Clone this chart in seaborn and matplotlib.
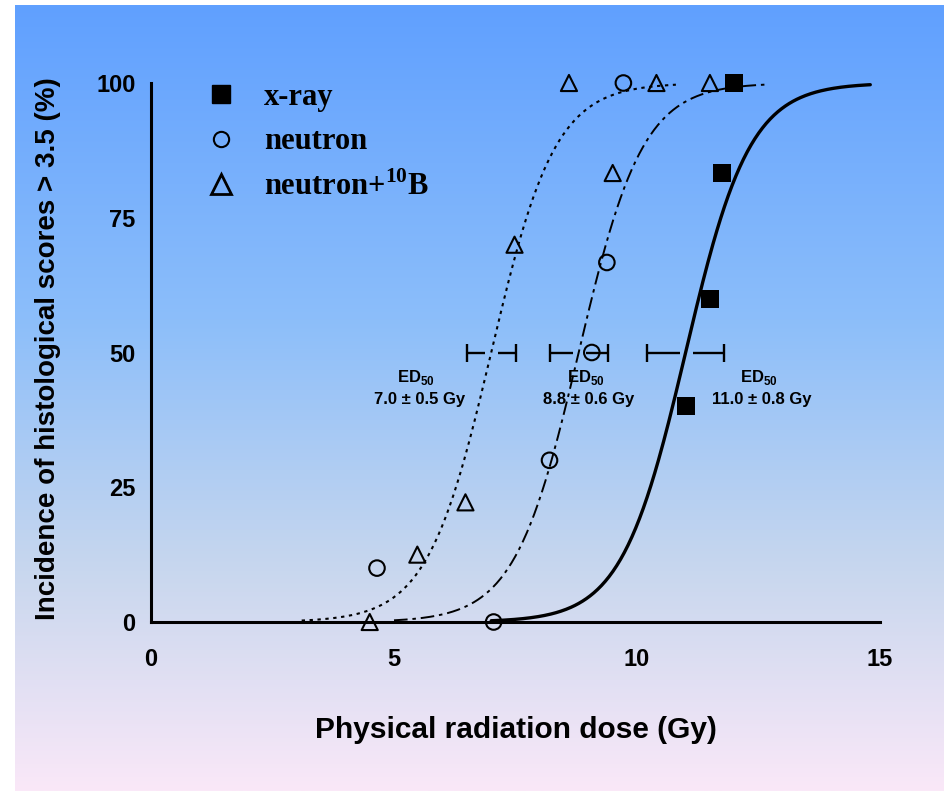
import numpy as np
import pandas as pd
import matplotlib
matplotlib.use("Agg")
import matplotlib.pyplot as plt
import seaborn as sns
from matplotlib.lines import Line2D

# ---- observed incidence (% of animals with histological score > 3.5) ----
xray_dose = [11.0, 11.5, 11.75, 12.0]
xray_pct = [40.0, 60.0, 83.3, 100.0]

neutron_dose = [4.65, 7.05, 8.2, 9.07, 9.38, 9.72]
neutron_pct = [10.0, 0.0, 30.0, 50.0, 66.7, 100.0]

boron_dose = [4.5, 5.48, 6.47, 7.48, 8.6, 9.5, 10.4, 11.5]
boron_pct = [0.0, 12.5, 22.2, 70.0, 100.0, 83.3, 100.0, 100.0]

# ---- fitted dose-response (logistic) ----
groups = ["x-ray", "neutron", "neutron+10B"]
ed50 = [11.0, 8.8, 7.0]
ed50_err = [0.8, 0.6, 0.5]
fit_width = 0.66                      # common logistic width parameter (Gy)
fit_span = [(7.0, 14.8), (5.0, 12.7), (3.1, 10.8)]

x_ticks = [0, 5, 10, 15]
y_ticks = [0, 25, 50, 75, 100]

sns.set_theme(style="white")
plt.rcParams["font.family"] = ["Liberation Sans", "DejaVu Sans"]
plt.rcParams["text.color"] = "black"
plt.rcParams["axes.labelcolor"] = "black"
plt.rcParams["mathtext.fontset"] = "custom"
plt.rcParams["mathtext.rm"] = "Liberation Serif:bold"
plt.rcParams["mathtext.sf"] = "Liberation Sans:bold"
plt.rcParams["mathtext.bf"] = "Liberation Serif:bold"

W, H = 944, 791
fig = plt.figure(figsize=(W / 100, H / 100), dpi=100, facecolor="white")

# slide-style vertical gradient background
bg = fig.add_axes([15 / W, 0, 1 - 15 / W, 1 - 5 / H], zorder=-10)
bg.axis("off")
stops = np.array([0.0, 0.40, 0.72, 1.0])
cols = np.array([[96, 160, 255], [140, 190, 250], [200, 215, 238], [250, 232, 248]]) / 255
t = np.linspace(0, 1, 400)
grad = np.stack([np.interp(t, stops, cols[:, i]) for i in range(3)], axis=-1)
bg.imshow(grad[:, None, :], aspect="auto", extent=[0, 1, 0, 1])

ax = fig.add_axes([151 / W, 1 - 622 / H, 729 / W, 539 / H])
ax.patch.set_alpha(0)

# fitted curves
styles = [
    dict(linestyle="-", linewidth=2.4),
    dict(linestyle=(0, (7, 2.5, 1.8, 2.5)), linewidth=1.4),
    dict(linestyle=(0, (1.6, 2.2)), linewidth=1.5),
]
for mid, span, st in zip(ed50, fit_span, styles):
    d = np.linspace(span[0], span[1], 300)
    resp = 100.0 / (1.0 + np.exp(-(d - mid) / fit_width))
    sns.lineplot(x=d, y=resp, ax=ax, color="black", sort=False,
                 estimator=None, clip_on=False, **st)

# ED50 with error bars at 50 %
ax.errorbar(ed50, [50] * 3, xerr=ed50_err, fmt="none", ecolor="black",
            elinewidth=0, capsize=6.5, capthick=1.7, zorder=3)
gap_lo, gap_hi = 0.12, 0.15
for mid, err in zip(ed50, ed50_err):
    ax.hlines(50, mid - err, mid - gap_lo, color="black", lw=1.7, zorder=3)
    ax.hlines(50, mid + gap_hi, mid + err, color="black", lw=1.7, zorder=3)

# observed points
sns.scatterplot(x=xray_dose, y=xray_pct, ax=ax, marker="s", s=150,
                color="black", edgecolor="black", linewidth=0, zorder=5,
                clip_on=False)
sns.scatterplot(x=neutron_dose, y=neutron_pct, ax=ax, marker="o", s=125,
                facecolors="none", edgecolor="black", linewidth=1.5,
                zorder=5, clip_on=False)
sns.scatterplot(x=boron_dose, y=boron_pct, ax=ax, marker="^", s=135,
                facecolors="none", edgecolor="black", linewidth=1.5,
                zorder=5, clip_on=False)

# ED50 labels
label_x = [12.57, 9.01, 5.52]
for lx, mid, err in zip(label_x, ed50, ed50_err):
    ax.text(lx - 0.06, 45.3, r"$\mathsf{ED}_{\mathsf{50}}$", ha="center",
            va="center", fontsize=12, color="black")
    ax.text(lx, 41.3, f"{mid:.1f} \u00b1 {err:.1f} Gy", ha="center",
            va="center", fontsize=12, fontweight="bold", color="black")

# axes styling
ax.set_xlim(0, 15)
ax.set_ylim(0, 100)
ax.set_xticks(x_ticks)
ax.set_xticks(np.arange(0, 16, 1), minor=True)
ax.set_yticks(y_ticks)
ax.set_yticks(np.arange(0, 101, 5), minor=True)
for s in ["top", "right"]:
    ax.spines[s].set_visible(False)
for s in ["left", "bottom"]:
    ax.spines[s].set_linewidth(2.2)
    ax.spines[s].set_color("black")
ax.tick_params(axis="x", which="major", direction="out", length=10, width=2,
               pad=9, labelsize=17, colors="black")
ax.tick_params(axis="x", which="minor", direction="out", length=6.5, width=1.8,
               colors="black")
ax.tick_params(axis="y", which="major", direction="out", length=9, width=2,
               pad=2, labelsize=17, colors="black")
ax.tick_params(axis="y", which="minor", direction="out", length=5, width=1.8,
               colors="black")
for lab in ax.get_xticklabels() + ax.get_yticklabels():
    lab.set_fontweight("bold")

ax.set_xlabel("Physical radiation dose (Gy)", fontsize=21.5, fontweight="bold",
              labelpad=32, color="black")
ax.set_ylabel("Incidence of histological scores > 3.5 (%)", fontsize=20,
              fontweight="bold", color="black")
ax.yaxis.set_label_coords(-0.123, 0.508)

# legend
handles = [
    Line2D([], [], marker="s", linestyle="none", markersize=13,
           markerfacecolor="black", markeredgecolor="black"),
    Line2D([], [], marker="o", linestyle="none", markersize=11,
           markerfacecolor="none", markeredgecolor="black", markeredgewidth=1.5),
    Line2D([], [], marker="^", linestyle="none", markersize=14,
           markerfacecolor="none", markeredgecolor="black", markeredgewidth=2),
]
labels = ["x-ray", "neutron", r"neutron+$^{\mathrm{10}}$B"]
leg = ax.legend(handles, labels, loc="upper left",
                bbox_to_anchor=(0.075, 1.0), frameon=False,
                handlelength=1.0, handletextpad=0.9, labelspacing=0.5,
                borderpad=0, borderaxespad=0, labelcolor="black",
                prop={"family": "Liberation Serif", "weight": "bold", "size": 22})

fig.savefig("out.png", dpi=100, facecolor="white")
